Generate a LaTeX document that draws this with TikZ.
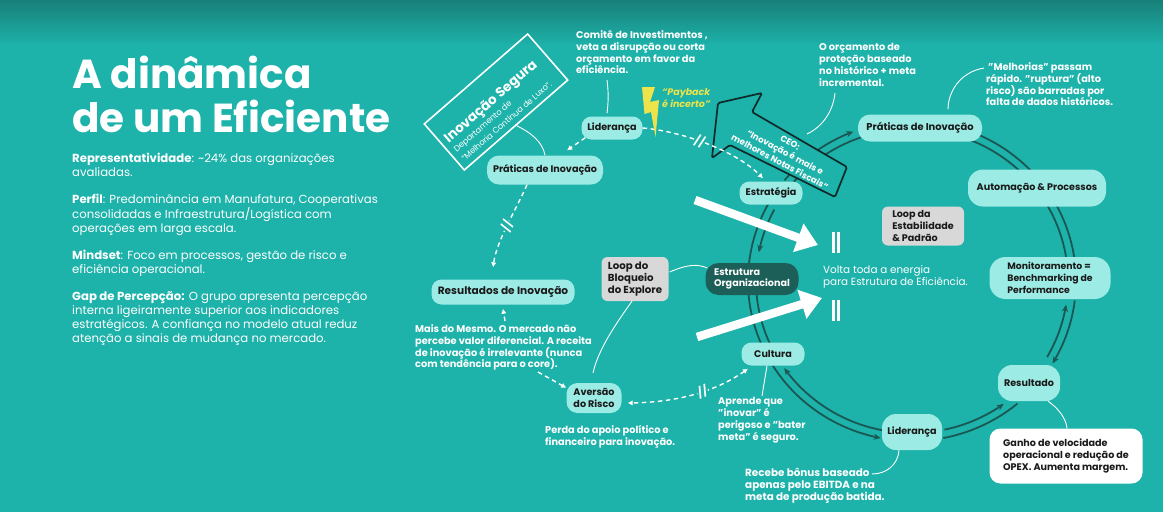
\documentclass[tikz,border=0pt]{standalone}
\usepackage{fontspec}
\setmainfont{Poppins}
\usetikzlibrary{arrows.meta,calc}
\definecolor{bg}{HTML}{1DB2AA}
\definecolor{bgdark}{HTML}{178079}
\definecolor{nodec}{HTML}{9CEBE4}
\definecolor{ringc}{HTML}{1B5753}
\definecolor{darknode}{HTML}{1C5E58}
\definecolor{grayc}{HTML}{D8D8D8}
\definecolor{txtd}{HTML}{1A1A1A}
\definecolor{yel}{HTML}{EDE34A}
\definecolor{ceoline}{HTML}{0F2B29}
\newcommand\fLbl{\fontsize{9.6}{11.7}\selectfont\bfseries}
\newcommand\fBig{\fontsize{9.6}{12}\selectfont\bfseries}
\newcommand\fCall{\fontsize{9.8}{11.8}\selectfont\bfseries}
\newcommand\fBody{\fontsize{11.7}{14}\selectfont}
\newcommand\ringarc[5]{\draw[ring,#1] plot[domain=#4:#5,samples=40] ({912+#2*cos(\x)},{281+#3*sin(\x)});}
\begin{document}
\begin{tikzpicture}[x=1pt,y=-1pt,
  >={Stealth[length=7pt,width=6pt]},
  ring/.style={draw=ringc,line width=1.8pt},
  lnode/.style={fill=nodec,text=txtd,font=\fLbl,rounded corners=10pt,inner sep=0pt,align=center},
  gnode/.style={fill=grayc,text=txtd,font=\fLbl,rounded corners=6pt,inner sep=0pt,align=left},
  dsh/.style={draw=white,line width=1.4pt,dash pattern=on 4.5pt off 3.5pt},
  wt/.style={-{Latex[length=5pt,width=5.5pt]}},
  cl/.style={draw=white,line width=0.9pt},
  ctext/.style={text=white,font=\fCall,align=left,inner sep=0pt,anchor=north west},
  brk/.style={font=\fontsize{11}{11}\selectfont\bfseries,text=white,fill=bg,inner sep=0.3pt,sloped},
  bigarrow/.style={draw=white,line width=8.5pt,-{Triangle[length=21pt,width=29pt]}}
]
\useasboundingbox (0,0) rectangle (1163,512);
% background
\fill[bg] (0,0) rectangle (1163,512);
\shade[top color=bgdark, bottom color=bg] (0,0) rectangle (1163,45);

% ring (two lines)
\ringarc{->}{164}{160}{219}{249}
\ringarc{}{156}{152}{219}{252}
\ringarc{}{164}{160}{292}{320}
\ringarc{}{156}{152}{292}{320}
\ringarc{}{164}{160}{330}{356}
\ringarc{}{156}{152}{330}{356}
\ringarc{->}{156}{152}{30}{9}
\ringarc{->}{164}{160}{7}{31}
\ringarc{->}{156}{152}{78}{54}
\ringarc{}{164}{160}{79}{50}
\ringarc{->}{164}{160}{148}{101}
\ringarc{->}{156}{152}{101}{145}
\ringarc{}{164}{160}{150}{178}
\ringarc{}{156}{152}{150}{178}
\ringarc{}{164}{160}{182}{214}
\ringarc{->}{156}{152}{208}{191}

% CEO arrow
\draw[draw=ceoline,line width=1.7pt,fill=bg,rounded corners=1.5pt]
  (718,103) -- (762,93) -- (752,112) -- (847,167) -- (835,197) -- (730,145) -- (712,158) -- cycle;
\node[text=white,font=\fontsize{8.7}{11}\selectfont\bfseries,rotate=-28,align=center,inner sep=0pt] (ceo) at (785,152.5) {CEO:\\“Inovação é mais e\\melhores Notas Fiscais”};

% big white arrows
\coordinate (w1s) at (695,200); \coordinate (w1e) at (818,245);
\coordinate (w2s) at (697,337); \coordinate (w2e) at (822,298);
\draw[bigarrow] (w1s) -- (w1e);
\draw[bigarrow] (w2s) -- (w2e);
\draw[white,line width=2.6pt] (833.5,232) -- (833.5,253) (838.5,232) -- (838.5,253);
\draw[white,line width=2.6pt] (833.5,300) -- (833.5,321) (838.5,300) -- (838.5,321);

% nodes (left loop)
\node[lnode,minimum width=61pt,minimum height=23pt] (lid1) at (612,128) {Liderança};
\node[lnode,minimum width=116pt,minimum height=29pt,rounded corners=12pt] (prat1) at (545,170) {Práticas de Inovação};
\node[lnode,font=\fontsize{10.6}{12}\selectfont\bfseries,minimum width=143pt,minimum height=25pt] (res1) at (503,292) {Resultados de Inovação};
\node[lnode,minimum width=55pt,minimum height=30pt,rounded corners=11pt] (avers) at (594,398) {Aversão\\do Risco};
\node[lnode,minimum width=63pt,minimum height=23pt] (cult) at (773,354) {Cultura};
\node[lnode,minimum width=63pt,minimum height=23pt] (estrat) at (771,193) {Estratégia};
\node[lnode,fill=darknode,text=white,align=left,minimum width=93pt,minimum height=32pt,rounded corners=13pt] (estrut) at (752,279) {Estrutura\\Organizacional};
\node[gnode,font=\fontsize{10.2}{11.7}\selectfont\bfseries,minimum width=67pt,minimum height=44pt] (loopB) at (635,279) {Loop do\\Bloqueio\\do Explore};
% nodes (right ring)
\node[lnode,font=\fontsize{9.9}{12}\selectfont\bfseries,minimum width=124pt,minimum height=27pt,rounded corners=12pt] (prat2) at (920,128) {Práticas de Inovação};
\node[lnode,font=\fBig,minimum width=138pt,minimum height=37pt,rounded corners=15pt] (autom) at (1037,188) {Automação \& Processos};
\node[gnode,minimum width=82pt,minimum height=39pt] (loopE) at (923,226) {Loop da\\Estabilidade\\\& Padrão};
\node[lnode,font=\fontsize{9.3}{12}\selectfont\bfseries,align=left,minimum width=121pt,minimum height=42pt,rounded corners=16pt] (monit) at (1050,278) {Monitoramento =\\Benchmarking de\\Performance};
\node[lnode,minimum width=62pt,minimum height=36pt,rounded corners=14pt] (resul) at (1029,383) {Resultado};
\node[lnode,minimum width=60pt,minimum height=36pt,rounded corners=14pt] (lid2) at (912,432) {Liderança};
\node[lnode,fill=white,align=left,minimum width=153pt,minimum height=55pt,rounded corners=11pt] (ganho) at (1066,456) {Ganho de velocidade\\operacional e redução de\\OPEX. Aumenta margem.};

% Inovação Segura box
\node[draw=white,line width=1.6pt,rotate=41,minimum width=137pt,minimum height=61pt,inner sep=0pt] (inovbox) at (496,102) {};
\node[rotate=41,text=white,align=left,inner sep=0pt] (inovtxt) at (498,110) {{\fontsize{13.5}{14}\selectfont\bfseries Inovação Segura}\\{\fontsize{8.2}{9}\selectfont Departamento de}\\{\fontsize{8.2}{9}\selectfont “Melhoria Contínua de Luxo”.}};

% dashed connectors (left loop)
\draw[dsh,wt] ($(lid1.south west)+(4,-2)$) -- ($(prat1.north)+(22,-5)$);
\draw[dsh,wt] (lid1.east) .. controls (680,131) and (735,150) .. ($(estrat.north)+(-8,-3)$) node[brk,pos=0.45] {//};
\draw[dsh,wt] ($(prat1.south)+(-18,0)$) .. controls (515,212) and (497,240) .. ($(res1.north)+(-10,-12)$) node[brk,pos=0.5] {//};
\coordinate (m1) at (505,321); \coordinate (m2) at (538,372);
\draw[dsh,wt] (m1) -- ($(res1.south)+(0,4)$);
\draw[dsh,wt] (m2) -- ($(avers.north west)+(0,5)$);
\draw[dsh,{Latex[length=5pt,width=5.5pt]}-{Latex[length=5pt,width=5.5pt]}] ($(cult.south)+(-25,3)$) .. controls (725,385) and (690,402) .. ($(avers.east)+(6,5)$) node[brk,pos=0.5] {//};

% callout lines
\coordinate (cm) at (607,80);
\draw[cl] (cm) .. controls (609,95) and (608,105) .. ($(lid1.north)+(-5,-3)$);
\draw[cl] (inovbox.south) .. controls (530,132) and (543,142) .. (prat1.north);
\coordinate (oc) at (835,93); \coordinate (ce) at (807,134);
\draw[cl] (oc) .. controls (833,112) and (822,127) .. (ce);
\coordinate (mel) at (984,68);
\draw[cl] (mel) .. controls (960,72) and (948,92) .. ($(prat2.north)+(28,-5)$);
\draw[cl] ($(loopB.east)+(1,-7)$) .. controls (688,264) and (698,264) .. ($(estrut.west)+(2,-11)$);
\coordinate (ab) at (593,373);
\draw[cl] ($(loopB.south)+(-3,0)$) .. controls (615,325) and (598,350) .. (ab);
\coordinate (ap) at (762,396);
\draw[cl] ($(cult.south)+(-6,0)$) -- (ap);
\coordinate (rb) at (872,474);
\draw[cl] ($(lid2.south)+(-13,0)$) .. controls (898,465) and (886,474) .. (rb);
\draw[cl] ($(resul.south)+(19,0)$) .. controls (1058,408) and (1066,418) .. ($(ganho.north)+(1,0)$);

% lightning and payback
\fill[yel] (642,87) -- (655,87) -- (650,102) -- (659,100) -- (655.5,137) -- (651,112) -- (644.5,114) -- cycle;
\node[ctext,text=yel,font=\fontsize{9.5}{12}\selectfont\bfseries\itshape] (payb) at (662,88) {“Payback\\é incerto”};

% callout texts
\node[ctext] (comite) at (576,30.5) {Comitê de Investimentos ,\\veta a disrupção ou corta\\orçamento em favor da\\eficiência.};
\node[ctext] (orc) at (819,43.5) {O orçamento de\\proteção baseado\\no histórico + meta\\incremental.};
\node[ctext] (melh) at (986,62.5) {\hspace{2pt}"Melhorias" passam\\rápido. "ruptura" (alto\\risco) são barradas por\\falta de dados históricos.};
\node[ctext,font=\fontsize{10.4}{12.5}\selectfont] (volta) at (823,265) {Volta toda a energia\\para Estrutura de Eficiência.};
\node[ctext] (mais) at (415,324.5) {Mais do Mesmo. O mercado não\\percebe valor diferencial. A receita\\de inovação é irrelevante (nunca\\com tendência para o core).};
\node[ctext] (perda) at (545,425.5) {Perda do apoio político e\\financeiro para inovação.};
\node[ctext] (aprende) at (718,397.5) {Aprende que\\"inovar" é\\perigoso e "bater\\meta" é seguro.};
\node[ctext,font=\fontsize{10.4}{12}\selectfont\bfseries] (recebe) at (745,468.5) {Recebe bônus baseado\\apenas pelo EBITDA e na\\meta de produção batida.};

% left panel
\node[anchor=base west,inner sep=0pt,text=white,font=\fontsize{40.5}{44}\selectfont\bfseries] (t1) at (72,88) {A dinâmica};
\node[anchor=base west,inner sep=0pt,text=white,font=\fontsize{40.5}{44}\selectfont\bfseries] (t2) at (72,132) {de um Eficiente};
\node[anchor=north west,inner sep=0pt,text=white,font=\fBody,align=left] (body) at (72,152.5) {\textbf{Representatividade}: \textasciitilde24\% das organizações\\avaliadas.\\[13pt]\textbf{Perfil}: Predominância em Manufatura, Cooperativas\\consolidadas e Infraestrutura/Logística com\\operações em larga escala.\\[13pt]\textbf{Mindset}: Foco em processos, gestão de risco e\\eficiência operacional.\\[13pt]\textbf{Gap de Percepção:} O grupo apresenta percepção\\interna ligeiramente superior aos indicadores\\estratégicos. A confiança no modelo atual reduz\\atenção a sinais de mudança no mercado.};
\end{tikzpicture}
\end{document}
